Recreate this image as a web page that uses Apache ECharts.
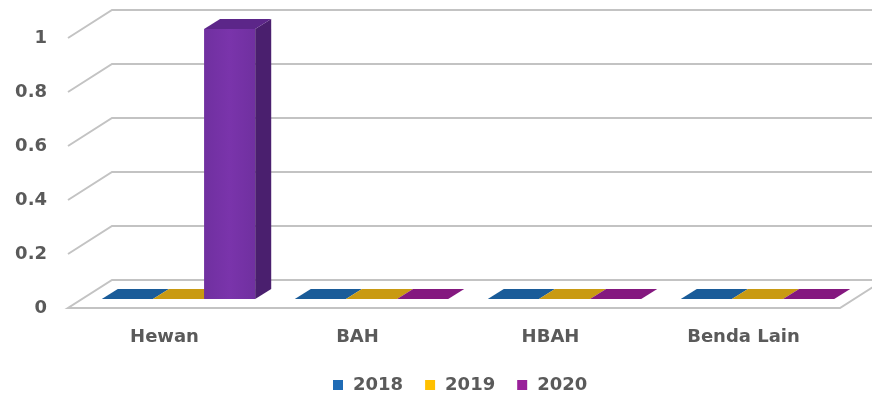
<!DOCTYPE html>
<html><head><meta charset="utf-8">
<script src="https://cdn.jsdelivr.net/npm/echarts@6/dist/echarts.min.js"></script>
<style>html,body{margin:0;padding:0;background:#fff}#c{width:872px;height:397px}</style>
</head><body><div id="c"></div>
<script>
const categories = ['Hewan', 'BAH', 'HBAH', 'Benda Lain'];
const seriesNames = ['2018', '2019', '2020'];
const v2018 = [0, 0, 0, 0];
const v2019 = [0, 0, 0, 0];
const v2020 = [1, 0, 0, 0];
const yTicks = [0, 0.2, 0.4, 0.6, 0.8, 1];

const legendColors = ['#1f6bb5', '#ffc000', '#99209a'];
const flatTop = ['#1a5c99', '#c99a12', '#84187f'];
const frontCol = ['#1f5fa0', '#d4a017', '#7030a0'];
const sideCol = ['#143e6a', '#8c690d', '#4a1f6e'];
const topCol = ['#1a5290', '#b98c12', '#5c2689'];

const DX = 44, DY = -28;

function gridRender(params, api) {
  const cs = params.coordSys;
  const v = api.value(1);
  const y = api.coord([0, v])[1];
  const style = { stroke: '#c3c3c3', lineWidth: 2, fill: null };
  if (v === 0) {
    return { type: 'polygon', shape: { points: [[cs.x, y], [cs.x + cs.width, y], [cs.x + cs.width + DX, y + DY], [cs.x + DX, y + DY]] }, style: style, silent: true };
  }
  return { type: 'polyline', shape: { points: [[cs.x, y], [cs.x + DX, y + DY], [cs.x + cs.width + 80, y + DY]] }, style: style, silent: true };
}

function barRender(sIdx) {
  return function (params, api) {
    const cat = api.value(0), val = api.value(1);
    const base = api.coord([cat, 0]);
    const topP = api.coord([cat, val]);
    const band = api.size([1, 0])[0];
    const bw = band * 0.265;
    const x0 = base[0] - 1.5 * bw + sIdx * bw + 14;
    const x1 = x0 + bw;
    const yb = base[1] - 9;
    const yt = topP[1] - 9;
    const dx = 16, dy = -10;
    const children = [];
    const h = yb - yt;
    if (h > 0.5) {
      children.push({ type: 'rect', shape: { x: x0, y: yt, width: bw, height: h },
        style: { fill: new echarts.graphic.LinearGradient(0, 0, 1, 0, [{ offset: 0, color: frontCol[sIdx] }, { offset: 0.5, color: '#7a34ab' }, { offset: 1, color: frontCol[sIdx] }]) } });
      children.push({ type: 'polygon', shape: { points: [[x1, yt], [x1 + dx, yt + dy], [x1 + dx, yb + dy], [x1, yb]] }, style: { fill: sideCol[sIdx] } });
    }
    children.push({ type: 'polygon', shape: { points: [[x0, yt], [x0 + dx, yt + dy], [x1 + dx, yt + dy], [x1, yt]] },
      style: { fill: h > 0.5 ? topCol[sIdx] : flatTop[sIdx] } });
    return { type: 'group', children: children, silent: true };
  };
}

const allVals = [v2018, v2019, v2020];
const chart = echarts.init(document.getElementById('c'));
const series = [{
  type: 'custom', name: 'grid', renderItem: gridRender, clip: false, silent: true, z: 1,
  data: yTicks.map(v => [0, v])
}];
seriesNames.forEach((n, i) => {
  series.push({
    type: 'custom', name: n, renderItem: barRender(i), clip: false, z: 2 + i,
    itemStyle: { color: legendColors[i] },
    data: allVals[i].map((v, k) => [k, v])
  });
});
const txt = { fontFamily: 'DejaVu Sans', fontWeight: 'bold', color: '#5a5a5a' };
chart.setOption({
  animation: false,
  backgroundColor: '#ffffff',
  grid: { left: 68, right: 32, top: 38, bottom: 89 },
  legend: {
    data: seriesNames, top: 376, left: 333, padding: 0, icon: 'rect', itemWidth: 10, itemHeight: 10, itemGap: 22,
    textStyle: Object.assign({ fontSize: 18, padding: [0, 0, 0, 5] }, txt)
  },
  xAxis: {
    type: 'category', data: categories,
    axisLine: { show: false }, axisTick: { show: false }, splitLine: { show: false },
    axisLabel: Object.assign({ margin: 20, fontSize: 18 }, txt)
  },
  yAxis: {
    type: 'value', min: 0, max: 1, interval: 0.2,
    axisLine: { show: false }, axisTick: { show: false }, splitLine: { show: false },
    axisLabel: Object.assign({ margin: 21, fontSize: 18, formatter: v => String(Math.round(v * 10) / 10) }, txt)
  },
  series: series
});
</script></body></html>
